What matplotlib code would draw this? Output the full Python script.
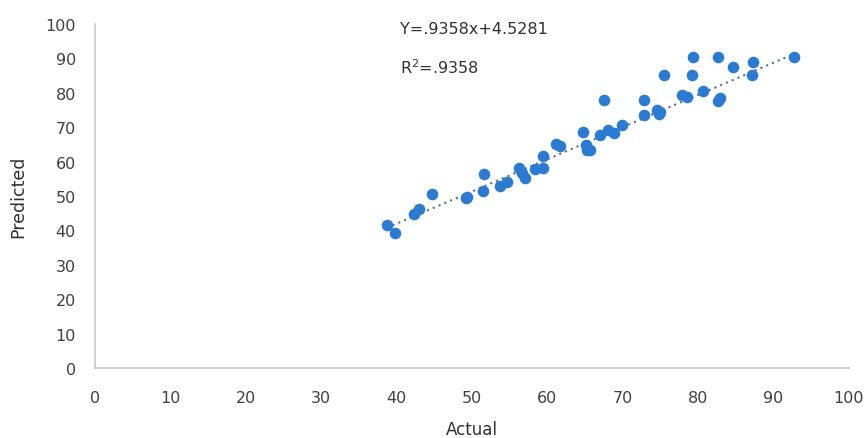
import numpy as np
import matplotlib.pyplot as plt

# valores
actual = [38.7, 39.8, 42.3, 43.0, 44.7, 49.2, 49.4, 51.5, 51.6, 53.7,
          54.6, 56.2, 56.6, 57.0, 58.3, 59.4, 59.4, 61.2, 61.7, 64.7,
          65.2, 65.3, 65.6, 67.0, 67.5, 68.1, 68.8, 69.9, 72.8, 72.8,
          74.5, 74.8, 75.0, 75.5, 77.9, 78.5, 79.2, 79.4, 80.7, 82.6,
          82.6, 82.9, 84.6, 87.2, 87.3, 92.7]
predicted = [41.6, 39.2, 44.8, 46.2, 50.6, 49.3, 49.6, 51.5, 56.4, 53.0,
             54.2, 58.0, 56.8, 55.2, 57.8, 58.0, 61.6, 65.0, 64.5, 68.5,
             64.8, 63.3, 63.5, 67.6, 77.8, 69.2, 68.2, 70.6, 77.9, 73.6,
             75.0, 73.8, 74.5, 85.3, 79.5, 78.8, 85.3, 90.3, 80.5, 90.5,
             77.5, 78.5, 87.6, 85.3, 89.0, 90.5]
slope = 0.9358
intercept = 4.5281
ticks = [0, 10, 20, 30, 40, 50, 60, 70, 80, 90, 100]

fig = plt.figure(figsize=(8.66, 4.39), dpi=100)
ax = fig.add_axes([0.110, 0.1595, 0.870, 0.7835])

ax.scatter(actual, predicted, s=70, color='#2b7bd3', zorder=3, linewidths=0)
xl = np.array([min(actual), max(actual)])
ax.plot(xl, slope*xl + intercept, linestyle=(0, (1, 2)), color='#55708f', lw=1.5, zorder=2)

ax.set_xlim(0, 100)
ax.set_ylim(0, 100)
ax.set_xticks(ticks)
ax.set_yticks(ticks)
ax.tick_params(length=0, labelsize=11.5, labelcolor='#404040')
ax.tick_params(axis='x', pad=16)
ax.tick_params(axis='y', pad=14)
for s in ['top', 'right']:
    ax.spines[s].set_visible(False)
for s in ['left', 'bottom']:
    ax.spines[s].set_color('#c8c8c8')
    ax.spines[s].set_linewidth(1.2)

ax.set_xlabel('Actual', fontsize=12, color='#303030')
ax.set_ylabel('Predicted', fontsize=12.5, color='#303030')
ax.xaxis.set_label_coords(0.5, -0.150)
ax.yaxis.set_label_coords(-0.090, 0.5)

ax.text(40.4, 98.7, 'Y=.9358x+4.5281', fontsize=11.5, color='#303030', va='center')
ax.text(40.4, 87.6, r'R$^2$=.9358', fontsize=11.5, color='#303030', va='center')

fig.savefig('out.png', dpi=100)
